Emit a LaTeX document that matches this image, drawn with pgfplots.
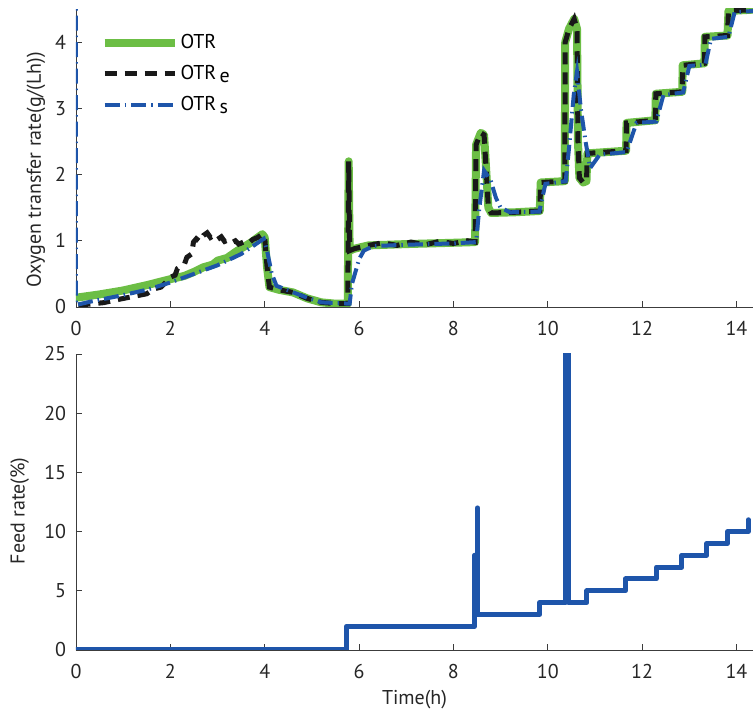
\documentclass[border=0pt]{standalone}
\usepackage{fontspec}
\setmainfont{PT Sans}
\usepackage{pgfplots}
\pgfplotsset{compat=1.18}
\definecolor{otrgreen}{RGB}{108,190,69}
\definecolor{otrblue}{RGB}{30,85,170}
\definecolor{axgray}{RGB}{60,60,60}
\newcommand{\fs}{\fontsize{20}{24}\selectfont}
\begin{document}
\fs
\begin{tikzpicture}[x=1pt,y=1pt]
\useasboundingbox (0,0) rectangle (753,715);
\pgfplotsset{
  myaxis/.style={
    scale only axis, width=677pt, anchor=south west,
    axis lines=left, axis line style={-, axgray, line width=0.8pt},
    tick align=inside, major tick length=6pt,
    tick style={axgray, line width=0.8pt},
    xmin=0, xmax=14.35, xtick={0,2,...,14},
    minor tick num=0,
    ticklabel style={font=\fs, text=black!85},
    xticklabel style={yshift=-7pt},
    yticklabel style={xshift=-3pt},
    /pgf/number format/assume math mode=true,
    label style={font=\fs, text=black!85},
  }
}
% ---------------- top axis ----------------
\begin{axis}[myaxis, at={(76pt,408pt)}, height=298pt,
  ymin=0, ymax=4.5, ytick={0,1,2,3,4},
  ylabel={Oxygen transfer rate(g/(Lh))},
  ylabel style={at={(axis description cs:-0.059,0.46)}, anchor=center},
  legend style={at={(axis description cs:0.033,0.93)}, anchor=north west,
    draw=none, fill=none, font=\fs, row sep=10pt, inner sep=2pt},
  legend cell align=left,
  legend image code/.code={\draw[#1, line cap=butt] (0pt,0pt) -- (70pt,0pt);},
]
\addplot[otrgreen, line width=8pt, line join=round, line cap=round] coordinates {
(0,0.14) (0.5,0.19) (1,0.25) (1.5,0.33) (2,0.42) (2.3,0.47) (2.5,0.53) (2.7,0.6)
(2.9,0.64) (3,0.70) (3.2,0.74) (3.4,0.84)
(3.7,0.97) (3.95,1.10) (4.0,1.05) (4.05,0.6) (4.1,0.3) (4.3,0.26) (4.6,0.22)
(4.9,0.13) (5.2,0.07) (5.5,0.05) (5.76,0.05) (5.78,2.2) (5.8,0.85) (5.9,0.88)
(6.2,0.93) (7,0.95) (8,0.97) (8.46,0.98) (8.48,2.45) (8.58,2.63) (8.65,2.6)
(8.7,2.0) (8.74,1.5) (8.8,1.42) (9.3,1.43) (9.83,1.45) (9.85,1.88) (10.36,1.9)
(10.37,4.0) (10.45,4.2) (10.56,4.35) (10.62,4.2) (10.64,2.5) (10.67,1.95)
(10.75,1.88) (10.82,1.9) (10.84,2.32) (11.66,2.36) (11.67,2.78) (12.28,2.82)
(12.29,3.22) (12.85,3.25) (12.86,3.65) (13.32,3.68) (13.33,4.08) (13.81,4.1)
(13.83,4.47) (14.35,4.49)
};
\addlegendentry{OTR}
\addplot[black!90, line width=5pt, dash pattern=on 12pt off 8pt] coordinates {
(0.05,0.03) (0.23,0.04) (0.58,0.065) (0.94,0.12) (1.29,0.17) (1.5,0.2) (1.64,0.27)
(1.8,0.3) (1.93,0.39) (2.0,0.45) (2.1,0.48) (2.15,0.58) (2.3,0.65) (2.35,0.75)
(2.45,0.8) (2.49,0.98) (2.55,1.03) (2.62,0.99) (2.7,1.08) (2.78,1.12) (2.85,1.05)
(2.92,1.08) (3.0,1.02) (3.08,1.06) (3.15,0.99) (3.22,1.01) (3.3,0.97) (3.38,1.0)
(3.45,0.95) (3.55,0.98) (3.65,0.96) (3.75,1.02) (3.85,1.05) (3.95,1.1)
(4.0,1.05) (4.05,0.6) (4.1,0.3) (4.3,0.26) (4.6,0.22) (4.9,0.13) (5.2,0.07)
(5.5,0.05) (5.76,0.05) (5.78,2.2) (5.8,0.85) (5.9,0.88) (6.2,0.93) (6.5,0.97)
(6.8,0.93) (7.1,0.98) (7.4,0.94) (7.7,0.99) (8.0,0.96) (8.3,1.0) (8.46,0.98)
(8.48,2.45) (8.58,2.63) (8.65,2.6) (8.7,2.0) (8.74,1.5) (8.8,1.42) (9.3,1.43)
(9.83,1.45) (9.85,1.88) (10.36,1.9) (10.37,4.0) (10.45,4.2) (10.56,4.35)
(10.62,4.2) (10.64,2.5) (10.67,1.95) (10.75,1.88) (10.82,1.9) (10.84,2.32)
(11.66,2.36) (11.67,2.78) (12.28,2.82) (12.29,3.22) (12.85,3.25) (12.86,3.65)
(13.32,3.68) (13.33,4.08) (13.81,4.1) (13.83,4.47) (14.35,4.49)
};
\addlegendentry{OTR\,\raisebox{-3pt}{e}}
\addplot[otrblue, line width=4pt, dash pattern=on 15pt off 5pt on 1.5pt off 5pt] coordinates {
(0,6) (0,0.03) (0.3,0.08) (1,0.18) (1.5,0.26) (2,0.37) (2.5,0.5) (3,0.63)
(3.5,0.8) (3.98,1.03) (4.05,0.85) (4.15,0.5) (4.25,0.32) (4.5,0.25) (4.9,0.14)
(5.2,0.07) (5.8,0.05) (5.85,0.35) (6.0,0.72) (6.1,0.85) (6.3,0.92) (7,0.94)
(8,0.96) (8.48,0.98) (8.55,1.5) (8.65,2.06) (8.79,1.91) (8.9,1.65) (9.0,1.5)
(9.2,1.43) (9.82,1.44) (9.95,1.86) (10.38,1.9) (10.45,2.4) (10.55,3.2)
(10.62,3.55) (10.7,3.0) (10.8,2.5) (10.9,2.1) (11.0,2.2) (11.1,2.3) (11.67,2.34)
(11.88,2.78) (12.3,2.8) (12.45,3.2) (12.87,3.24) (13.0,3.64) (13.34,3.66)
(13.46,4.05) (13.83,4.08) (13.96,4.45) (14.35,4.47)
};
\addlegendentry{OTR\,\raisebox{-3pt}{s}}
\end{axis}
% ---------------- bottom axis ----------------
\begin{axis}[myaxis, at={(76pt,65pt)}, height=296pt,
  ymin=0, ymax=25, ytick={0,5,...,25},
  ylabel={Feed rate(\%)},
  ylabel style={at={(axis description cs:-0.083,0.47)}, anchor=center},
  xlabel={Time(h)},
  xlabel style={at={(axis description cs:0.5,-0.169)}, anchor=center},
]
\addplot[otrblue, line width=5pt, line join=round, line cap=round] coordinates {
(0,0) (5.73,0) (5.73,2) (8.45,2) (8.45,8) (8.45,3) (8.51,3) (8.51,12) (8.51,3)
(9.83,3) (9.83,4) (10.38,4) (10.38,25) (10.44,25) (10.44,4) (10.83,4) (10.83,5)
(11.65,5) (11.65,6) (12.3,6) (12.3,7) (12.84,7) (12.84,8) (13.37,8) (13.37,9)
(13.81,9) (13.81,10) (14.25,10) (14.25,11)
};
\end{axis}
\end{tikzpicture}
\end{document}
